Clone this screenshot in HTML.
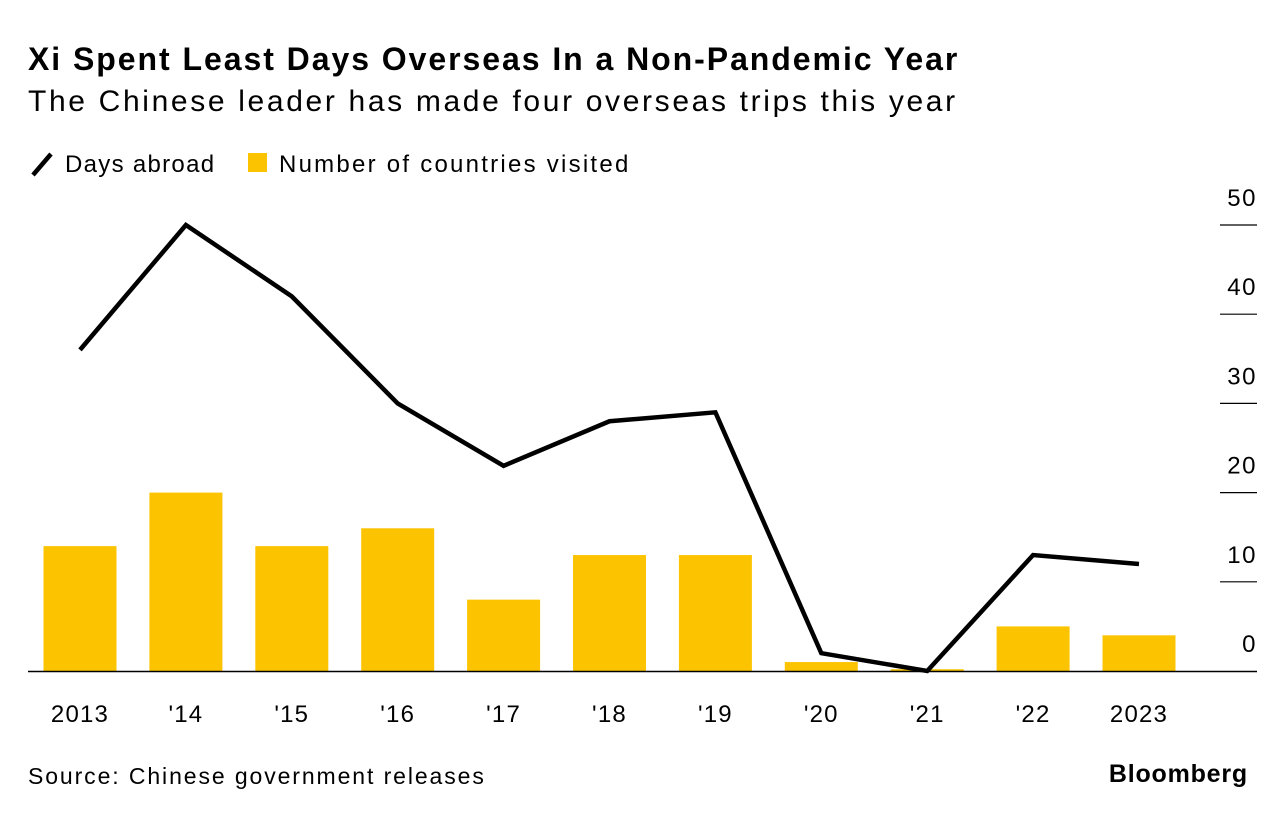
<!DOCTYPE html>
<html><head><meta charset="utf-8"><style>
body{margin:0;width:1286px;height:820px;background:#fff;font-family:"Liberation Sans",sans-serif;overflow:hidden}
#t{position:absolute;left:28px;top:41px;font-size:32px;font-weight:bold;color:#000;letter-spacing:1.95px;white-space:nowrap}
#s{position:absolute;left:28px;top:85px;font-size:30px;color:#000;letter-spacing:2.65px;white-space:nowrap}
#src{position:absolute;left:28px;top:763px;font-size:23px;letter-spacing:1.9px;white-space:nowrap}
#bb{position:absolute;right:38px;top:760px;font-size:25px;font-weight:bold;letter-spacing:0.8px}
</style></head><body>
<div id="t">Xi Spent Least Days Overseas In a Non-Pandemic Year</div>
<div id="s">The Chinese leader has made four overseas trips this year</div>
<svg id="c" width="1286" height="820" style="position:absolute;left:0;top:0"></svg>
<div id="src">Source: Chinese government releases</div>
<div id="bb">Bloomberg</div>
<script>
const categories=["2013","'14","'15","'16","'17","'18","'19","'20","'21","'22","2023"];
const daysAbroad=[36,50,42,30,23,28,29,2,0,13,12];
const countries=[14,20,14,16,8,13,13,1,0.2,5,4];
const yTicks=[0,10,20,30,40,50];
const ns="http://www.w3.org/2000/svg";
const svg=document.getElementById('c');
const y=v=>671-v*8.92;
const x=i=>80+i*105.9;
function mk(t,a){const e=document.createElementNS(ns,t);for(const k in a)e.setAttribute(k,a[k]);svg.appendChild(e);return e;}
let e=mk('line',{x1:33,y1:175,x2:51,y2:154,stroke:'#000','stroke-width':4.5});

e=mk('text',{x:65,y:172,'font-size':24,'letter-spacing':1.3});e.textContent='Days abroad';

e=mk('rect',{x:248,y:153,width:19,height:19,fill:'#fcc400'});

e=mk('text',{x:279,y:172,'font-size':24,'letter-spacing':2.25});e.textContent='Number of countries visited';

yTicks.forEach(v=>{
 if(v>0){e=mk('line',{x1:1220,x2:1257,y1:y(v),y2:y(v),stroke:'#000','stroke-width':1.2});
 }
 e=mk('text',{x:1257,y:y(v)-19,'font-size':24,'text-anchor':'end','letter-spacing':1.5});e.textContent=v;
 
});
countries.forEach((v,i)=>{
 e=mk('rect',{x:x(i)-36.5,y:y(v),width:73,height:v*8.92,fill:'#fcc400'});
 
});
e=mk('line',{x1:28,x2:1257,y1:671.5,y2:671.5,stroke:'#000','stroke-width':1.5});

categories.forEach((c,i)=>{
 e=mk('text',{x:x(i),y:722,'font-size':24,'text-anchor':'middle','letter-spacing':1.2});e.textContent=c;
 
});
e=mk('polyline',{points:daysAbroad.map((v,i)=>x(i)+','+y(v)).join(' '),fill:'none',stroke:'#000','stroke-width':4.5,'stroke-linejoin':'miter'});

</script>
</body></html>
